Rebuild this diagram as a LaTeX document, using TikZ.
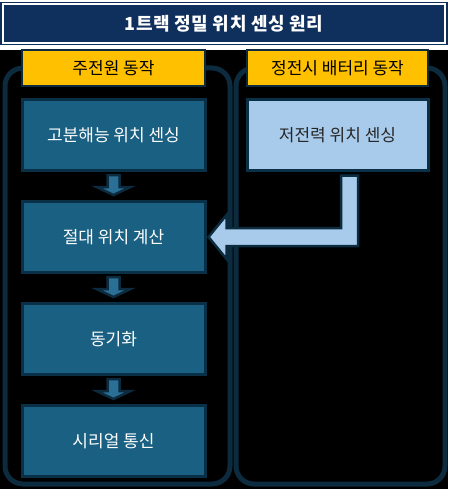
\documentclass[tikz,border=0pt]{standalone}
\usepackage{fontspec}
\setmainfont{Noto Sans CJK KR}
\usepackage{tikz}
\usetikzlibrary{calc}
\definecolor{titlenavy}{HTML}{0F2F5C}
\definecolor{lanedark}{HTML}{0C2B3E}
\definecolor{boxteal}{HTML}{1A6082}
\definecolor{boxedge}{HTML}{0A3048}
\definecolor{headyellow}{HTML}{FFC000}
\definecolor{lowblue}{HTML}{A9CBEB}
\definecolor{arrteal}{HTML}{2A6F96}

\begin{document}
\begin{tikzpicture}[x=1pt,y=-1pt,
    lane/.style={draw=lanedark, line width=5pt, rounded corners=18pt},
    head/.style={draw=lanedark, line width=2pt, fill=headyellow, text=black,
        minimum width=183pt, minimum height=36pt, font=\fontsize{17}{20}\selectfont},
    stepbox/.style={draw=boxedge, line width=3pt, fill=boxteal, text=white,
        minimum width=183pt, minimum height=71pt, font=\fontsize{17}{20}\selectfont},
    lowbox/.style={stepbox, fill=lowblue, text=black!85},
    downarr/.style={draw=lanedark, line width=2.5pt, fill=arrteal, line join=miter},
    lowarr/.style={draw=lanedark, line width=2.5pt, fill=lowblue, line join=miter}]
    \useasboundingbox (0,0) rectangle (448,489);
    \fill[black] (0,0) rectangle (448,489);
    % title bar
    \fill[white] (0,0) rectangle (448,50);
    \fill[titlenavy] (0,2) rectangle (448,45);
    \node[draw=white, line width=1.2pt, minimum width=442pt, minimum height=39pt,
        text=white, font=\fontsize{18}{21}\selectfont\bfseries\addfontfeatures{LetterSpace=3}] (title) at (224,23.5) {1트랙 정밀 위치 센싱 원리};
    % lanes
    \draw[lane] (5,68) rectangle (230,484);
    \draw[lane] (236,68) rectangle (445,484);
    \node[head] (mainhd) at (113.5,68.5) {주전원 동작};
    \node[head, minimum width=181pt] (batthd) at (337.5,68.5) {정전시 배터리 동작};
    % main power steps
    \node[stepbox] (b1) at (113.5,135) {고분해능 위치 센싱};
    \node[stepbox] (b2) at (113.5,237) {절대 위치 계산};
    \node[stepbox] (b3) at (113.5,339) {동기화};
    \node[stepbox] (b4) at (113.5,441) {시리얼 통신};
    % battery step
    \node[lowbox, minimum width=181pt] (low) at (337.5,135) {저전력 위치 센싱};
    \foreach \a/\b in {b1/b2, b2/b3, b3/b4}
        \draw[downarr] ($(\a.south)+(-6,3)$) -- ($(\a.south)+(6,3)$) -- ($(\a.south)+(6,15)$)
            -- ($(\a.south)+(17,15)$) -- ($(\b.north)+(0,-5)$) -- ($(\a.south)+(-17,15)$)
            -- ($(\a.south)+(-6,15)$) -- cycle;
    \coordinate (lowtop) at ($(low.south)+(3.5,3.5)$);
    \draw[lowarr] (lowtop) -- ++(17,0) |- ($(b2.east)+(20,9)$) -- ++(0,13) -- ($(b2.east)+(2,0)$)
        -- ($(b2.east)+(20,-22)$) -- ++(0,13) -| (lowtop) -- cycle;
\end{tikzpicture}
\end{document}
